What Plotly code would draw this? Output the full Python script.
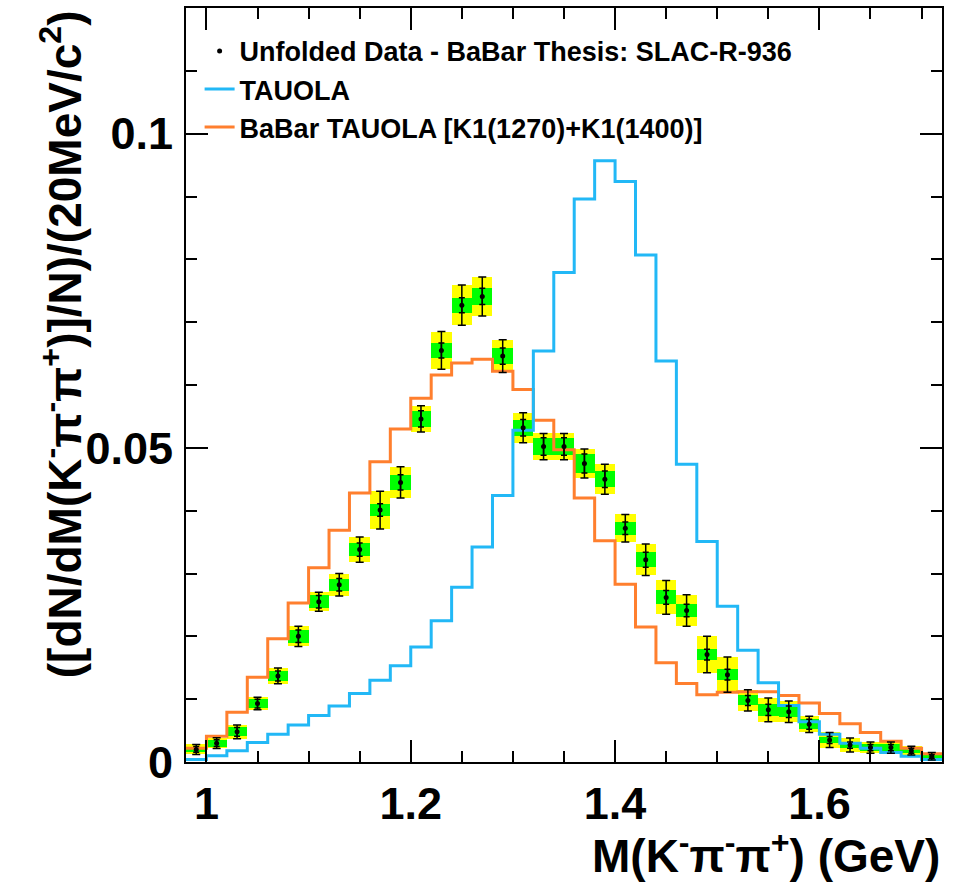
import numpy as np
import plotly.graph_objects as go

# ---------------- data ----------------
bin_edges = np.round(np.linspace(0.98, 1.72, 38), 4)
bin_centers = np.round((bin_edges[:-1] + bin_edges[1:]) / 2, 4)

data_val = [0.0020, 0.0030, 0.0048, 0.0093, 0.0137, 0.0200, 0.0255, 0.0282, 0.0338, 0.0401,
            0.0445, 0.0546, 0.0655, 0.0727, 0.0741, 0.0646, 0.0532, 0.0502, 0.0502, 0.0475,
            0.0450, 0.0372, 0.0322, 0.0262, 0.0241, 0.0171, 0.0139, 0.0098, 0.0083, 0.0080,
            0.0060, 0.0035, 0.0027, 0.0023, 0.0023, 0.0018, 0.0009]
data_err_tot = [0.0008, 0.00085, 0.0011, 0.0010, 0.00125, 0.0016, 0.0015, 0.0018, 0.0020, 0.0030,
                0.0025, 0.0021, 0.0030, 0.0032, 0.0031, 0.0026, 0.0024, 0.0021, 0.0021, 0.0023,
                0.0024, 0.0022, 0.0025, 0.0027, 0.0025, 0.0029, 0.0028, 0.0017, 0.0019, 0.0017,
                0.0013, 0.0012, 0.0011, 0.0009, 0.0009, 0.0007, 0.0006]
data_err_stat = [0.00045, 0.00055, 0.0007, 0.0007, 0.0008, 0.0010, 0.0010, 0.0010, 0.00105, 0.0010,
                 0.0012, 0.0013, 0.0012, 0.0012, 0.0013, 0.0013, 0.0013, 0.0014, 0.0014, 0.0015,
                 0.0013, 0.0010, 0.0012, 0.0011, 0.0010, 0.00085, 0.00085, 0.0008, 0.0009, 0.0009,
                 0.0008, 0.00055, 0.0005, 0.0005, 0.0005, 0.0004, 0.0003]

tauola = [0.0004, 0.0010, 0.0018, 0.0031, 0.0044, 0.0059, 0.0074, 0.0089, 0.0109, 0.0130,
          0.0153, 0.0183, 0.0225, 0.0278, 0.0342, 0.0424, 0.0528, 0.0654, 0.0779, 0.0896,
          0.0957, 0.0924, 0.0807, 0.0638, 0.0474, 0.0351, 0.0248, 0.0178, 0.0126, 0.0090,
          0.0064, 0.0044, 0.0030, 0.0022, 0.0015, 0.0009, 0.0004]
babar_tauola = [0.0022, 0.0041, 0.0079, 0.0135, 0.0196, 0.0253, 0.0309, 0.0369, 0.0428, 0.0478,
                0.0530, 0.0579, 0.0616, 0.0635, 0.0641, 0.0622, 0.0593, 0.0544, 0.0497, 0.0420,
                0.0352, 0.0283, 0.0215, 0.0158, 0.0125, 0.0107, 0.0111, 0.0112, 0.0112, 0.0106,
                0.0094, 0.0077, 0.0061, 0.0047, 0.0033, 0.0022, 0.0013]

x_tickvals = [1.0, 1.2, 1.4, 1.6]
x_ticktext = ["1", "1.2", "1.4", "1.6"]
y_tickvals = [0, 0.05, 0.1]
y_ticktext = ["0", "0.05", "0.1"]

legend_labels = ["Unfolded Data - BaBar Thesis: SLAC-R-936", "TAUOLA",
                 "BaBar TAUOLA [K1(1270)+K1(1400)]"]

# ---------------- style ----------------
FONT = "Liberation Sans, Arial, Helvetica, sans-serif"
BLUE = "#22b8f6"
ORANGE = "#ff7f2e"
YELLOW = "#ffff00"
GREEN = "#00ff00"
bin_w = 0.02

val = np.array(data_val)
tot = np.array(data_err_tot)
stat = np.array(data_err_stat)

fig = go.Figure()

# BaBar TAUOLA histogram (drawn beneath data boxes)
fig.add_trace(go.Scatter(
    x=bin_edges, y=list(babar_tauola) + [babar_tauola[-1]],
    mode="lines", line=dict(color=ORANGE, width=3, shape="hv"),
    name=legend_labels[2], legendrank=3, hoverinfo="skip"))

# total (yellow) and stat (green) boxes
fig.add_trace(go.Bar(x=bin_centers, y=2 * tot, base=val - tot, width=bin_w,
                     marker=dict(color=YELLOW, line=dict(width=0)),
                     showlegend=False, hoverinfo="skip"))
fig.add_trace(go.Bar(x=bin_centers, y=2 * stat, base=val - stat, width=bin_w,
                     marker=dict(color=GREEN, line=dict(width=0)),
                     showlegend=False, hoverinfo="skip"))

# TAUOLA histogram
fig.add_trace(go.Scatter(
    x=bin_edges, y=list(tauola) + [tauola[-1]],
    mode="lines", line=dict(color=BLUE, width=3, shape="hv"),
    name=legend_labels[1], legendrank=2, hoverinfo="skip"))

# error bars: total with caps, stat with inner ticks
fig.add_trace(go.Scatter(
    x=bin_centers, y=val, mode="markers",
    marker=dict(size=1, color="black", opacity=0),
    error_y=dict(type="data", array=tot, visible=True, color="black", thickness=1.5, width=4),
    showlegend=False, hoverinfo="skip"))
fig.add_trace(go.Scatter(
    x=bin_centers, y=val, mode="markers",
    marker=dict(size=5, color="black"),
    error_y=dict(type="data", array=stat, visible=True, color="black", thickness=1.5, width=3),
    name=legend_labels[0], legendrank=1))

axis_common = dict(
    showline=True, linecolor="black", linewidth=2, mirror="allticks",
    ticks="inside", ticklen=22, tickwidth=1.5, tickcolor="black",
    showgrid=False, zeroline=False,
    tickfont=dict(family=FONT, size=45, color="black", weight="bold"),
)

fig.update_xaxes(range=[0.98, 1.72], tickvals=x_tickvals, ticktext=x_ticktext,
                 minor=dict(dtick=0.05, tick0=1.0, ticks="inside", ticklen=11,
                            tickwidth=1.5, tickcolor="black", showgrid=False),
                 ticklabelstandoff=1, **axis_common)
fig.update_yaxes(range=[0, 0.12], tickvals=y_tickvals, ticktext=y_ticktext,
                 minor=dict(dtick=0.01, tick0=0, ticks="inside", ticklen=11,
                            tickwidth=1.5, tickcolor="black", showgrid=False),
                 ticklabelstandoff=2, **axis_common)

fig.add_annotation(
    text="([dN/dM(K<sup>-</sup>π<sup>-</sup>π<sup>+</sup>)]/N)/(20MeV/c<sup>2</sup>)",
    xref="paper", yref="paper", x=-0.165, y=1.0, xanchor="center", yanchor="top",
    textangle=-90, showarrow=False,
    font=dict(family=FONT, size=46, color="black", weight="bold"))
fig.add_annotation(
    text="M(K<sup>-</sup>π<sup>-</sup>π<sup>+</sup>) (GeV)",
    xref="paper", yref="paper", x=1.0, y=-0.121, xanchor="right", yanchor="middle",
    showarrow=False,
    font=dict(family=FONT, size=46, color="black", weight="bold"))

fig.update_layout(
    width=953, height=882, autosize=False,
    margin=dict(l=186, r=11, t=6, b=120),
    paper_bgcolor="white", plot_bgcolor="white",
    barmode="overlay", bargap=0,
    showlegend=True,
    legend=dict(x=0.018, y=0.975, xanchor="left", yanchor="top",
                bgcolor="rgba(0,0,0,0)", borderwidth=0, itemwidth=30,
                tracegroupgap=0,
                font=dict(family=FONT, size=27, color="black", weight="bold")),
)

fig.write_html("out.html")
